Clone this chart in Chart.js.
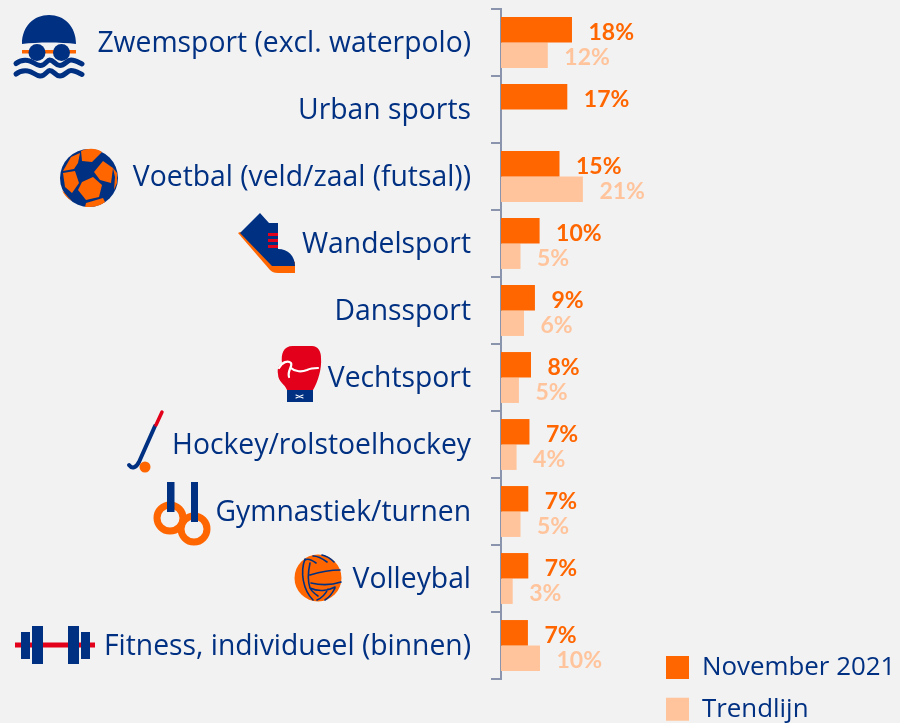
<!DOCTYPE html>
<html>
<head>
<meta charset="utf-8">
<style>
    html, body { margin: 0; padding: 0; background: #f2f2f2; }
    canvas { display: block; }
</style>
<script src="https://cdn.jsdelivr.net/npm/chart.js@4"></script>
</head>
<body>
<canvas id="graph" width="900" height="723"></canvas>
<script>
const categories = ['Zwemsport (excl. waterpolo)', 'Urban sports', 'Voetbal (veld/zaal (futsal))', 'Wandelsport', 'Danssport',
    'Vechtsport', 'Hockey/rolstoelhockey', 'Gymnastiek/turnen', 'Volleybal', 'Fitness, individueel (binnen)'];
const november2021 = [18.2, 17, 15, 9.9, 8.7, 7.7, 7.3, 7, 7, 6.9];
const trendlijn = [12, null, 21, 5, 5.9, 4.6, 4, 5, 3, 10];

const NAVY = '#003082', ORANGE = '#ff6600', LIGHT = '#ffc49c', RED = '#e2001a', AXIS = '#8a94ad';
const FONT = 'Open Sans', BOLD_FONT = 'Lato';

function fillPath(ctx, color, d) {
    ctx.fillStyle = color;
    ctx.fill(new Path2D(d));
}

function strokePath(ctx, color, width, d) {
    ctx.strokeStyle = color;
    ctx.lineWidth = width;
    ctx.lineCap = 'round';
    ctx.lineJoin = 'round';
    ctx.stroke(new Path2D(d));
}

function circle(ctx, color, x, y, r) {
    ctx.fillStyle = color;
    ctx.beginPath();
    ctx.arc(x, y, r, 0, Math.PI * 2);
    ctx.fill();
}

// the little sport icons next to the labels
function drawIcons(ctx) {
    // swimmer
    fillPath(ctx, NAVY, 'M22 44 C22 26 34 15 49 15 C64 15 76 26 76 44 C60 42 38 42 22 44 Z');
    fillPath(ctx, ORANGE, 'M22 50 H76 V53.5 H22 Z');
    circle(ctx, NAVY, 37, 52.5, 8.5);
    circle(ctx, NAVY, 61.5, 52.5, 8.5);
    strokePath(ctx, NAVY, 5, 'M16 63.5 C20 60 24 60 28 60.5 C33 61 35 65 40 65.5 C45 66 47 60 49.5 60 C54 60 55 65.5 60 65.5 C65 65.5 67 60 71 60 C75 60 78 62 82 64');
    strokePath(ctx, NAVY, 5, 'M16 74 C20 70.5 24 70.5 28 71 C33 71.5 35 75.5 40 76 C45 76.5 47 70.5 49.5 70.5 C54 70.5 55 76 60 76 C65 76 67 70.5 71 70.5 C75 70.5 78 72.5 82 74.5');

    // football
    circle(ctx, NAVY, 89, 178, 29);
    fillPath(ctx, ORANGE, 'M81 151 C88 148 96 148 102 152 L92 162 L82 161 Z');
    fillPath(ctx, ORANGE, 'M103 161 L113 168 L111 183 L100 180 L94 172 Z');
    fillPath(ctx, ORANGE, 'M63 173 L75 171 L79 183 L72 193 L65 187 Z');
    fillPath(ctx, ORANGE, 'M71 157 L80 153 L78 163 L74 169 L63 171 Z');
    fillPath(ctx, ORANGE, 'M82 182 L93 177 L102 185 L99 197 L86 200 L78 190 Z');
    fillPath(ctx, ORANGE, 'M86 203 L103 198 L105 202 C98 207 92 207 85 207 Z');
    fillPath(ctx, ORANGE, 'M113 168 L117 173 L117 183 L114 190 L115 177 Z');
    fillPath(ctx, ORANGE, 'M62 190 L68 197 L72 201 C67 198 64 195 62 190 Z');

    // shoe
    fillPath(ctx, ORANGE, 'M238 233 L270 270 C272 272 274 273 278 273 L295 273 L295 262 L240 232 Z');
    fillPath(ctx, NAVY, 'M260 213 L269 223 L278 223 L278 249 C288 249 295 256 295 266 L272 266 L240 233 Z');
    fillPath(ctx, RED, 'M268 233 H278 V236 H268 Z M268 239 H278 V242 H268 Z M268 245 H278 V248 H268 Z');

    // boxing glove
    fillPath(ctx, RED, 'M287 390 C285 384 278 382 278 374 C277 368 279 365 282 363 C281 354 283 346 293 346 L312 346 C318 346 321 351 321 358 C322 368 318 382 313 390 Z');
    fillPath(ctx, NAVY, 'M287 390 H313 V402 H287 Z');
    strokePath(ctx, '#ffffff', 2.2, 'M279 368 C282 362 288 360 291 363 C293 366 287 371 289 377 M291 368 C295 372 302 372 307 370 C311 368 314 368 318 368');
    strokePath(ctx, '#ffffff', 1.2, 'M296 395 L303 398 M296 398 L303 395');

    // hockey stick
    strokePath(ctx, NAVY, 4, 'M155 426 L139 462 C136 468 132 469 129 465');
    strokePath(ctx, RED, 3.5, 'M162 412 L156 425');
    circle(ctx, ORANGE, 145, 467, 5.5);

    // rings
    ctx.strokeStyle = ORANGE;
    ctx.lineWidth = 7;
    ctx.beginPath();
    ctx.arc(170, 518, 13, 0, Math.PI * 2);
    ctx.stroke();
    ctx.beginPath();
    ctx.arc(194, 529, 13, 0, Math.PI * 2);
    ctx.stroke();
    fillPath(ctx, NAVY, 'M167 482 H174.5 V512 H167 Z M191 482 H198 V522 H191 Z');

    // volleyball
    circle(ctx, ORANGE, 318, 578, 23.5);
    strokePath(ctx, NAVY, 1.6, 'M305 559 C300 572 303 590 313 600 M310 563 C308 572 308 582 310 588 C312 592 315 594 318 596 M310 575 C320 572 330 570 340 570 M311 583 C320 585 332 585 341 582 M305 560 C308 558 312 560 316 563 M313 556 C318 556 323 559 327 562 M322 555 C327 556 331 559 334 562 M310 588 C318 592 328 591 335 587 M317 600 C322 598 326 593 328 589 M325 600 C330 597 333 592 335 588');

    // dumbbell
    fillPath(ctx, RED, 'M15 642.5 H95 V647.5 H15 Z');
    fillPath(ctx, NAVY, 'M21 632 H30 V659 H21 Z M32 626 H43 V664 H32 Z M68 626 H79 V664 H68 Z M81 632 H90 V659 H81 Z');
}

const sportIcons = {
    id: 'sportIcons',
    afterDraw(chart) {
        chart.ctx.save();
        drawIcons(chart.ctx);
        chart.ctx.restore();
    }
};

const valueLabels = {
    id: 'valueLabels',
    afterDatasetsDraw(chart) {
        const ctx = chart.ctx;
        ctx.save();
        ctx.font = `bold 23px ${BOLD_FONT}`;
        ctx.textBaseline = 'middle';
        chart.data.datasets.forEach((ds, i) => {
            chart.getDatasetMeta(i).data.forEach((bar, j) => {
                if (ds.data[j] === null) return;
                ctx.fillStyle = ds.backgroundColor;
                ctx.fillText(Math.round(ds.data[j]) + '%', bar.x + 16.5, bar.y + 2.5);
            });
        });
        ctx.restore();
    }
};

// legend sits bottom right, below the end of the axis
// tick labels sit a bit lower than the middle of their band
const moveBoxes = {
    id: 'moveBoxes',
    afterUpdate(chart) {
        const legend = chart.legend;
        legend.left = 650;
        legend.right = 900;
        legend.top = 638.5;
        legend.bottom = 900;
        legend.adjustHitBoxes();
        chart.scales.y.getLabelItems().forEach(item => { item.options.translation[1] += 1.5; });
    }
};

new Chart(document.getElementById('graph'), {
    type: 'bar',
    data: {
        labels: categories,
        datasets: [
            { label: 'November 2021', data: november2021, backgroundColor: ORANGE, barPercentage: 1, categoryPercentage: 0.76 },
            { label: 'Trendlijn', data: trendlijn, backgroundColor: LIGHT, barPercentage: 1, categoryPercentage: 0.76 }
        ]
    },
    plugins: [valueLabels, sportIcons, moveBoxes],
    options: {
        indexAxis: 'y',
        responsive: false,
        animation: false,
        layout: { autoPadding: false, padding: { top: 9, bottom: 44, left: 0, right: 165 } },
        scales: {
            x: { display: false, min: 0, max: 60 },
            y: {
                afterFit: (scale) => {
                    scale.width = 501;
                    scale.paddingTop = 0;
                    scale.paddingBottom = 0;
                },
                border: { color: AXIS, width: 2 },
                grid: { drawOnChartArea: false, color: AXIS, lineWidth: 2, tickLength: 10 },
                ticks: {
                    autoSkip: false,
                    color: NAVY,
                    padding: 20,
                    font: { family: FONT, size: 28.3 }
                }
            }
        },
        plugins: {
            tooltip: { enabled: false },
            legend: {
                position: 'chartArea',
                align: 'start',
                labels: {
                    color: NAVY,
                    boxWidth: 23,
                    boxHeight: 23,
                    padding: 16,
                    font: { family: FONT, size: 25.9 }
                }
            }
        }
    }
});
</script>
</body>
</html>
